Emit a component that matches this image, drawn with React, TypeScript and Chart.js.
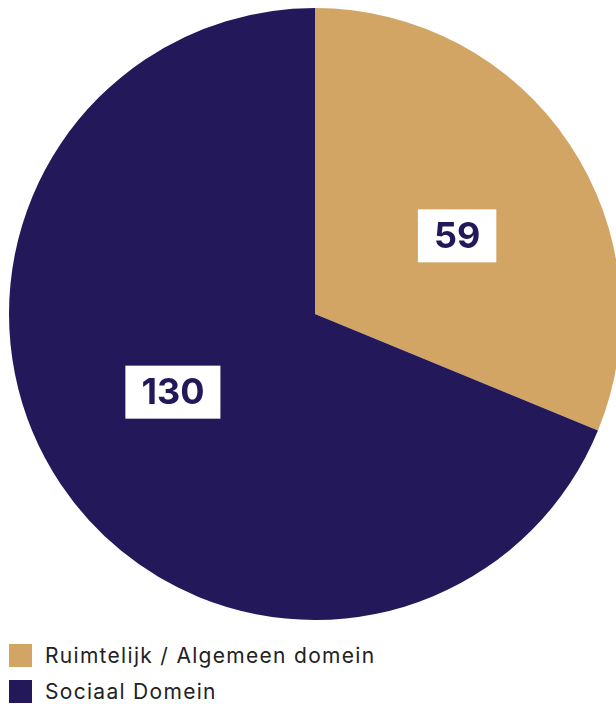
import React, { useEffect, useRef } from "react";
import { Chart, registerables } from "chart.js";

Chart.register(...registerables);

const categories = ["Ruimtelijk / Algemeen domein", "Sociaal Domein"];
const values = [59, 130];
const colors = ["#d2a564", "#23195a"];

const labelPlugin = {
  id: "boxLabels",
  afterDatasetsDraw(chart: any) {
    const ctx = chart.ctx;
    const meta = chart.getDatasetMeta(0);
    ctx.save();
    ctx.font = "bold 36px Inter";
    ctx.textAlign = "center";
    ctx.textBaseline = "middle";
    meta.data.forEach((arc: any, i: number) => {
      const p = arc.getProps(["x", "y", "startAngle", "endAngle", "outerRadius"], true);
      const mid = (p.startAngle + p.endAngle) / 2 + (5 * Math.PI) / 180;
      const d = p.outerRadius * 0.53;
      const cx = p.x + Math.cos(mid) * d;
      const cy = p.y + Math.sin(mid) * d;
      const txt = String(values[i]);
      const w = ctx.measureText(txt).width + 32;
      const h = 53;
      ctx.fillStyle = "#ffffff";
      ctx.fillRect(cx - w / 2, cy - h / 2, w, h);
      ctx.fillStyle = "#23195a";
      ctx.fillText(txt, cx, cy + 1);
    });
    ctx.restore();
  },
};

export default function App() {
  const ref = useRef<HTMLCanvasElement>(null);
  useEffect(() => {
    if (!ref.current) return;
    const chart = new Chart(ref.current, {
      type: "pie",
      data: {
        labels: categories,
        datasets: [
          {
            data: values,
            backgroundColor: colors,
            borderWidth: 0,
          },
        ],
      },
      options: {
        responsive: false,
        animation: false,
        layout: { padding: { left: 9, right: 9, top: 8, bottom: 10 } },
        plugins: { legend: { display: false }, tooltip: { enabled: false } },
      },
      plugins: [labelPlugin],
    });
    return () => chart.destroy();
  }, []);

  return (
    <div
      style={{
        position: "fixed",
        left: 0,
        top: 0,
        width: 616,
        height: 704,
        overflow: "hidden",
        background: "#fff",
      }}
    >
      <canvas ref={ref} width={630} height={630} style={{ position: "absolute", left: 0, top: 0, width: 630, height: 630 }} />
      {categories.map((c, i) => (
        <div
          key={c}
          style={{
            position: "absolute",
            left: 9,
            top: 644 + i * 36,
            height: 23,
            display: "flex",
            alignItems: "center",
            fontFamily: "Inter, sans-serif",
            fontSize: 21,
            letterSpacing: 1.3,
            color: "#222222",
            whiteSpace: "nowrap",
          }}
        >
          <span style={{ display: "inline-block", width: 23, height: 23, background: colors[i], marginRight: 13 }} />
          <span>{c}</span>
        </div>
      ))}
    </div>
  );
}
